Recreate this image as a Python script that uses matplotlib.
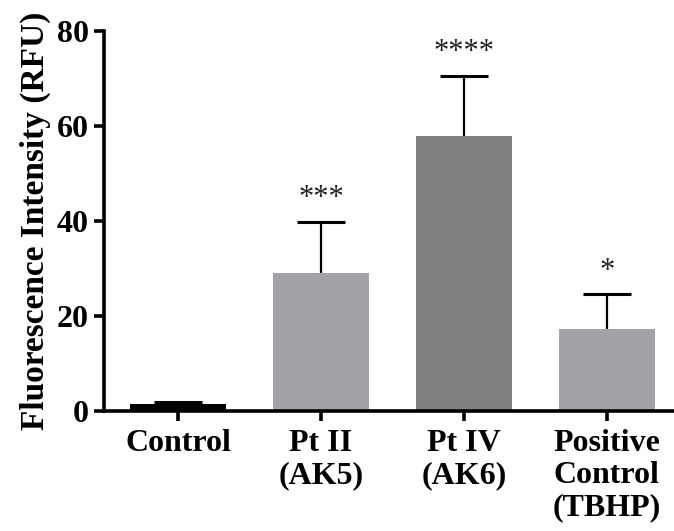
import matplotlib
matplotlib.use("Agg")
import matplotlib.pyplot as plt

# data
groups = ["Control", "Pt II\n(AK5)", "Pt IV\n(AK6)", "Positive\nControl\n(TBHP)"]
means = [1.5, 29.0, 58.0, 17.3]
errs = [0.3, 10.8, 12.6, 7.3]
stars = ["", "***", "****", "*"]
colors = ["#000000", "#a3a3a7", "#808080", "#a3a2a7"]

plt.rcParams["font.family"] = ["Liberation Serif", "DejaVu Serif"]

fig = plt.figure(figsize=(6.74, 5.31), dpi=100)
ax = fig.add_axes([0.154, 0.226, 0.846, 0.7156])

x = list(range(len(groups)))
ax.bar(x, means, width=0.67, color=colors, zorder=2)
eb = ax.errorbar(x, means, yerr=[[0] * len(errs), errs], fmt="none",
                 ecolor="black", elinewidth=1.6, capsize=17, capthick=2.2,
                 zorder=1)
# only the upper caps are shown
eb[1][0].set_visible(False)

for xi, m, e, s in zip(x, means, errs, stars):
    if s:
        ax.text(xi, m + e + 1.8, s, ha="center", va="bottom",
                fontsize=22, color="#222222")

ax.set_xlim(-0.52, 3.47)
ax.set_ylim(0, 80)
ax.set_yticks([0, 20, 40, 60, 80])
ax.set_xticks(x)
ax.set_xticklabels(groups, fontsize=23, fontweight="bold", linespacing=1.15)
for lab in ax.get_yticklabels():
    lab.set_fontsize(23)
    lab.set_fontweight("bold")
ax.set_ylabel("Fluorescence Intensity (RFU)", fontsize=24, fontweight="bold",
              labelpad=4)

for side in ["top", "right"]:
    ax.spines[side].set_visible(False)
for side in ["left", "bottom"]:
    ax.spines[side].set_linewidth(2.6)
ax.tick_params(axis="both", width=2.6, length=7, pad=4)
ax.tick_params(axis="x", pad=6)

fig.savefig("out.png", dpi=100)
